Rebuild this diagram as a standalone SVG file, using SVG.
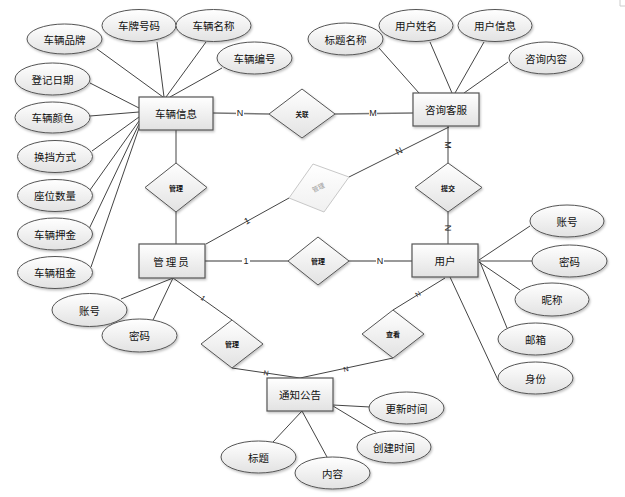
<svg xmlns="http://www.w3.org/2000/svg" width="625" height="497" viewBox="0 0 625 497">
<defs>
<linearGradient id="g" x1="0" y1="0" x2="0" y2="1">
<stop offset="0" stop-color="#ffffff"/>
<stop offset="1" stop-color="#e2e2e2"/>
</linearGradient>
<linearGradient id="gg" x1="0" y1="0" x2="0" y2="1">
<stop offset="0" stop-color="#ffffff"/>
<stop offset="1" stop-color="#f0f0f0"/>
</linearGradient>
<filter id="sh" x="-20%" y="-20%" width="150%" height="150%">
<feDropShadow dx="1" dy="1.5" stdDeviation="0.8" flood-color="#000" flood-opacity="0.25"/>
</filter>
</defs>
<style>
.ent{fill:url(#g);stroke:#555;stroke-width:1.2;filter:url(#sh)}
.att{fill:url(#g);stroke:#555;stroke-width:1;filter:url(#sh)}
.rel{fill:url(#g);stroke:#555;stroke-width:1;filter:url(#sh)}
.t{font-family:"Noto Sans CJK SC","Liberation Sans",sans-serif;font-size:10.5px;fill:#111;text-anchor:middle;dominant-baseline:central}
.rt{font-family:"Noto Sans CJK SC","Liberation Sans",sans-serif;font-size:7px;fill:#111;text-anchor:middle;dominant-baseline:central;font-weight:bold}
.c{stroke:#444;stroke-width:1;fill:none}
.cr{stroke:#777;stroke-width:1.6;fill:none}
.lb{font-family:"Liberation Sans",sans-serif;font-size:9px;fill:#222;text-anchor:middle;dominant-baseline:central}
</style>
<path d="M620 0 V6 H625" stroke="#ccc" fill="none"/>
<g id="connectors">
<line class="c" x1="97" y1="49" x2="163" y2="97"/>
<line class="c" x1="157" y1="42" x2="164" y2="97"/>
<line class="c" x1="206" y1="42" x2="166" y2="97"/>
<line class="c" x1="222" y1="68" x2="170" y2="97"/>
<line class="c" x1="90" y1="83" x2="139" y2="108"/>
<line class="c" x1="90" y1="116" x2="139" y2="112"/>
<line class="c" x1="92" y1="151" x2="139" y2="117"/>
<line class="c" x1="90" y1="190" x2="139" y2="121"/>
<line class="c" x1="89" y1="229" x2="139" y2="124"/>
<line class="c" x1="91" y1="267" x2="139" y2="128"/>
<line class="c" x1="379" y1="48" x2="419" y2="93"/>
<line class="c" x1="430" y1="42" x2="452" y2="93"/>
<line class="c" x1="484" y1="42" x2="455" y2="93"/>
<line class="c" x1="508" y1="62" x2="464" y2="93"/>
<line class="c" x1="479" y1="260" x2="530" y2="226"/>
<line class="c" x1="479" y1="261" x2="532" y2="261"/>
<line class="c" x1="479" y1="262" x2="520" y2="290"/>
<line class="c" x1="480" y1="262" x2="507" y2="328"/>
<line class="c" x1="450" y1="277" x2="498" y2="380"/>
<line class="c" x1="173" y1="278" x2="121" y2="299"/>
<line class="c" x1="173" y1="278" x2="153" y2="320"/>
<line class="c" x1="333" y1="405" x2="370" y2="407"/>
<line class="c" x1="333" y1="406" x2="376" y2="432"/>
<line class="c" x1="302" y1="411" x2="273" y2="442"/>
<line class="c" x1="302" y1="411" x2="327" y2="457"/>
<line class="cr" x1="213" y1="113" x2="269" y2="114"/>
<line class="cr" x1="335" y1="114" x2="413" y2="113"/>
<line class="c" x1="176" y1="130" x2="176" y2="163"/>
<line class="c" x1="176" y1="212" x2="176" y2="244"/>
<line class="c" x1="448" y1="126" x2="448" y2="163"/>
<line class="c" x1="448" y1="212" x2="448" y2="244"/>
<line class="cr" x1="205" y1="261" x2="288" y2="261"/>
<line class="cr" x1="349" y1="261" x2="412" y2="261"/>
<line class="c" x1="206" y1="244" x2="289" y2="198"/>
<line class="c" x1="349" y1="177" x2="449" y2="127"/>
<line class="c" x1="173" y1="278" x2="232" y2="320"/>
<line class="c" x1="232" y1="368" x2="300" y2="378"/>
<line class="c" x1="445" y1="278" x2="393" y2="310"/>
<line class="c" x1="393" y1="358" x2="300" y2="378"/>
<rect x="236" y="108" width="8" height="10" fill="#fff"/>
<text class="lb" x="240" y="113">N</text>
<rect x="369" y="108" width="8" height="10" fill="#fff"/>
<text class="lb" x="373" y="113">M</text>
<text class="lb" transform="translate(448,145) rotate(90)">M</text>
<text class="lb" transform="translate(448,228) rotate(90)">N</text>
<rect x="242" y="256" width="8" height="10" fill="#fff"/>
<text class="lb" x="246" y="261">1</text>
<rect x="376" y="256" width="8" height="10" fill="#fff"/>
<text class="lb" x="380" y="261">N</text>
<text class="lb" transform="translate(247,221) rotate(-29)">1</text>
<text class="lb" transform="translate(399,151) rotate(-27)">N</text>
<text class="lb" style="font-size:7px" transform="translate(203,298) rotate(35)">1</text>
<text class="lb" style="font-size:7px" transform="translate(266,373) rotate(8)">N</text>
<text class="lb" style="font-size:7px" transform="translate(418,294) rotate(-31)">N</text>
<text class="lb" style="font-size:7px" transform="translate(346,369) rotate(-12)">N</text>
</g>
<g id="e-cheliang"><rect class="ent" x="139" y="97" width="74" height="33"/><text class="t" x="176" y="113.5">车辆信息</text></g>
<g id="e-zixun"><rect class="ent" x="413" y="93" width="66" height="33"/><text class="t" x="446" y="109.5">咨询客服</text></g>
<g id="e-admin"><rect class="ent" x="139" y="244" width="66" height="34"/><text class="t" x="172" y="261" letter-spacing="2">管理员</text></g>
<g id="e-user"><rect class="ent" x="412" y="244" width="66" height="33"/><text class="t" x="445" y="260.5">用户</text></g>
<g id="e-notice"><rect class="ent" x="267" y="378" width="66" height="33"/><text class="t" x="300" y="394.5">通知公告</text></g>
<g id="r-guanlian"><polygon class="rel" points="302,89 335,114 302,138 269,114"/><text class="rt" style="font-size:6.5px" x="302" y="114">关联</text></g>
<g id="r-guanli1"><polygon class="rel" points="176,163 207,187.5 176,212 145,187.5"/><text class="rt" x="176" y="187.5">管理</text></g>
<g id="r-tijiao"><polygon class="rel" points="448,163 482,187.5 448,212 415,187.5"/><text class="rt" x="448" y="187.5">提交</text></g>
<g id="r-guanli2"><polygon class="rel" points="318,237 349,261 318,285 288,261"/><text class="rt" x="318" y="261">管理</text></g>
<g id="r-guanli3"><polygon points="313,164 349,177 324,212 289,198" fill="url(#gg)" stroke="#c8c8c8" stroke-width="1"/><text class="rt" style="fill:#999;font-weight:normal;font-size:6.5px" transform="translate(318,187) rotate(-25)">管理</text></g>
<g id="r-guanli4"><polygon class="rel" points="232,320 263,344 232,368 201,344"/><text class="rt" x="232" y="344">管理</text></g>
<g id="r-chakan"><polygon class="rel" points="393,310 424,334 393,358 362,334"/><text class="rt" x="393" y="334">查看</text></g>
<g id="a-pinpai"><ellipse class="att" cx="64.5" cy="39" rx="37.5" ry="15"/><text class="t" x="64.5" y="39">车辆品牌</text></g>
<g id="a-chepai"><ellipse class="att" cx="139" cy="25.5" rx="37" ry="16"/><text class="t" x="139" y="25.5">车牌号码</text></g>
<g id="a-mingcheng"><ellipse class="att" cx="213.5" cy="25.5" rx="37.5" ry="16"/><text class="t" x="213.5" y="25.5">车辆名称</text></g>
<g id="a-bianhao"><ellipse class="att" cx="254.5" cy="58" rx="37.5" ry="16"/><text class="t" x="254.5" y="58">车辆编号</text></g>
<g id="a-dengji"><ellipse class="att" cx="52.5" cy="79" rx="37.5" ry="16"/><text class="t" x="52.5" y="79">登记日期</text></g>
<g id="a-yanse"><ellipse class="att" cx="52.5" cy="117.5" rx="37.5" ry="15.5"/><text class="t" x="52.5" y="117.5">车辆颜色</text></g>
<g id="a-huandang"><ellipse class="att" cx="55" cy="156.5" rx="37.5" ry="16"/><text class="t" x="55" y="156.5">换挡方式</text></g>
<g id="a-zuowei"><ellipse class="att" cx="55" cy="195.5" rx="37.5" ry="16"/><text class="t" x="55" y="195.5">座位数量</text></g>
<g id="a-yajin"><ellipse class="att" cx="55" cy="234" rx="37.5" ry="16"/><text class="t" x="55" y="234">车辆押金</text></g>
<g id="a-zujin"><ellipse class="att" cx="55" cy="272.5" rx="37.5" ry="16"/><text class="t" x="55" y="272.5">车辆租金</text></g>
<g id="a-admin-zh"><ellipse class="att" cx="89.5" cy="310" rx="37.5" ry="16.5"/><text class="t" x="89.5" y="310">账号</text></g>
<g id="a-admin-mm"><ellipse class="att" cx="139.5" cy="335.5" rx="37.5" ry="16.5"/><text class="t" x="139.5" y="335.5">密码</text></g>
<g id="a-biaotimc"><ellipse class="att" cx="345.5" cy="39" rx="37.5" ry="16"/><text class="t" x="345.5" y="39">标题名称</text></g>
<g id="a-xingming"><ellipse class="att" cx="416" cy="25.5" rx="37" ry="16"/><text class="t" x="416" y="25.5">用户姓名</text></g>
<g id="a-yhxx"><ellipse class="att" cx="495" cy="25.5" rx="37" ry="16"/><text class="t" x="495" y="25.5">用户信息</text></g>
<g id="a-zxnr"><ellipse class="att" cx="546" cy="58" rx="37" ry="16"/><text class="t" x="546" y="58">咨询内容</text></g>
<g id="a-user-zh"><ellipse class="att" cx="567" cy="221" rx="37" ry="16"/><text class="t" x="567" y="221">账号</text></g>
<g id="a-user-mm"><ellipse class="att" cx="569.5" cy="261" rx="37.5" ry="16"/><text class="t" x="569.5" y="261">密码</text></g>
<g id="a-nicheng"><ellipse class="att" cx="552" cy="299.5" rx="37" ry="16.5"/><text class="t" x="552" y="299.5">昵称</text></g>
<g id="a-youxiang"><ellipse class="att" cx="535.5" cy="339" rx="37.5" ry="16"/><text class="t" x="535.5" y="339">邮箱</text></g>
<g id="a-shenfen"><ellipse class="att" cx="535.5" cy="378" rx="37.5" ry="16"/><text class="t" x="535.5" y="378">身份</text></g>
<g id="a-gengxin"><ellipse class="att" cx="406.5" cy="408" rx="37.5" ry="16"/><text class="t" x="406.5" y="408">更新时间</text></g>
<g id="a-chuangjian"><ellipse class="att" cx="394" cy="447" rx="37" ry="16"/><text class="t" x="394" y="447">创建时间</text></g>
<g id="a-neirong"><ellipse class="att" cx="332.5" cy="473" rx="37.5" ry="16"/><text class="t" x="332.5" y="473">内容</text></g>
<g id="a-biaoti"><ellipse class="att" cx="258.5" cy="457" rx="37.5" ry="16"/><text class="t" x="258.5" y="457">标题</text></g>
</svg>
